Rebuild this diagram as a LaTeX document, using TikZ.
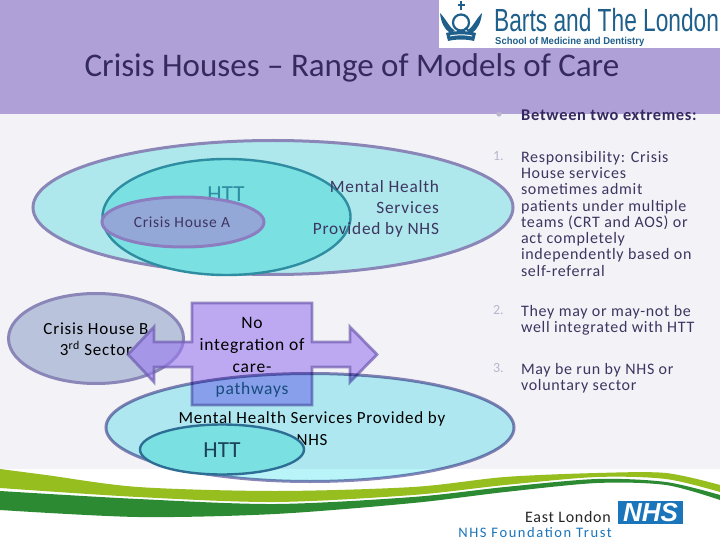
\documentclass[tikz,border=0pt]{standalone}
\usepackage{graphicx}
\usepackage{fontspec}
\setmainfont{Carlito}
\newfontfamily\logofont{Liberation Sans}
\newfontfamily\spaced[LetterSpace=4.5]{Carlito}
\newfontfamily\wider[LetterSpace=11]{Carlito}
\usetikzlibrary{shapes.geometric}
\definecolor{band}{HTML}{B0A0D8}
\definecolor{paper}{HTML}{F3F2F7}
\definecolor{ink}{HTML}{352A5E}
\definecolor{bodyink}{HTML}{3E3560}
\definecolor{numgray}{HTML}{B9B5CC}
\definecolor{rimviolet}{HTML}{8A87B8}
\definecolor{paleteal}{HTML}{AEE8EC}
\definecolor{brightteal}{HTML}{B8F4F8}
\definecolor{midteal}{HTML}{7BE0E2}
\definecolor{rimteal}{HTML}{2E8DA0}
\definecolor{rimblue}{HTML}{2D6E94}
\definecolor{houseA}{HTML}{94A8D8}
\definecolor{houseB}{HTML}{B9C4DC}
\definecolor{arrowfill}{HTML}{9A78F0}
\definecolor{arrowrim}{HTML}{6E5CB0}
\definecolor{logoblue}{HTML}{1F5F8B}
\definecolor{nhsblue}{HTML}{1A75BB}
\definecolor{lightgreen}{HTML}{96BE1E}
\definecolor{darkgreen}{HTML}{2C8A32}
\definecolor{pathblue}{HTML}{1F4F80}
\tikzset{
  x=1pt,y=-1pt,
  blob/.style={ellipse,inner sep=0pt,outer sep=0pt,line width=3pt},
  label/.style={inner sep=0pt,outer sep=0pt,text=black,align=center},
  sz/.style={font=\fontsize{#1}{#1}\selectfont},
  bodytext/.style={inner sep=0pt,outer sep=0pt,anchor=north west,align=left,text=bodyink,
    font=\spaced\fontsize{16}{16.3}\selectfont},
  numtext/.style={inner sep=0pt,outer sep=0pt,anchor=north west,text=numgray,font=\fontsize{14}{16}\selectfont},
}
\begin{document}
\begin{tikzpicture}
\useasboundingbox (0,0) rectangle (720,540);
% backgrounds
\fill[paper] (0,0) rectangle (720,540);
\fill[band] (0,0) rectangle (720,114);
\fill[white] (0,469) rectangle (720,540);
% swoosh
\fill[lightgreen] plot[smooth] coordinates {(0,469) (46,475) (138,487) (275,491) (413,487) (505,477) (597,473) (666,473) (720,485)}
  -- plot[smooth] coordinates {(720,492) (666,479) (597,477) (505,485) (413,495) (275,502) (138,497) (0,488)} -- cycle;
\fill[darkgreen] plot[smooth] coordinates {(0,491) (138,499) (275,504) (413,497) (505,487) (597,479) (666,482) (720,495)}
  -- plot[smooth] coordinates {(720,500) (666,485) (597,483) (505,492) (413,503) (275,514) (138,517) (0,510)} -- cycle;
% top logo
\fill[white] (439,0) rectangle (720,48);
\begin{scope}[logoblue]
  \draw[line width=2pt] (461,1.5) -- (461,10) (457.5,5) -- (464.5,5);
  \draw[line width=2.2pt] (461,22.5) circle[radius=8];
  \draw[line width=1.8pt] (465,28) -- (472,33);
  \fill (440,13) .. controls (446,19) and (449,27) .. (455,31) -- (450,33) .. controls (444,29) and (441,22) .. (440,13) -- cycle;
  \fill (482,13) .. controls (476,19) and (473,27) .. (467,31) -- (472,33) .. controls (478,29) and (481,22) .. (482,13) -- cycle;
  \fill (446,33) .. controls (455,30.5) and (467,30.5) .. (476,33) -- (474,41) .. controls (466,39) and (456,39) .. (448,41) -- cycle;
  \fill[white] (450,35.5) .. controls (456,34) and (466,34) .. (472,35.5) -- (472,36.5) .. controls (466,35) and (456,35) .. (450,36.5) -- cycle;
\end{scope}
\node[inner sep=0pt,anchor=west,text=logoblue,font=\logofont\fontsize{32}{32}\selectfont] (bartsname) at (494,20) {\scalebox{0.71}[1]{Barts and The London}};
\node[inner sep=0pt,anchor=west,text=logoblue,font=\logofont\bfseries\fontsize{10}{10}\selectfont] (bartsschool) at (495,42) {\scalebox{0.945}[1]{School of Medicine and Dentistry}};
% title
\node[inner sep=0pt,text=ink,sz=33] (title) at (352,68) {Crisis Houses – Range of Models of Care};
% top group
\node[blob,draw=rimviolet,fill=paleteal,minimum width=480pt,minimum height=134pt] (nhsA) at (273,207.5) {};
\node[blob,line width=2.4pt,draw=rimteal,fill=midteal,minimum width=248pt,minimum height=116pt] (httA) at (226.5,217) {};
\node[inner sep=0pt,text=rimteal,sz=23] (httAtext) at (226,194) {HTT};
\node[blob,draw=arrowrim!80!white,fill=houseA,minimum width=162pt,minimum height=50pt] (houseAshape) at (183,222) {};
\node[label,text=bodyink,font=\spaced\fontsize{15.5}{15.5}\selectfont] (houseAtext) at (182,222) {Crisis House A};
\node[label,text=bodyink,anchor=east,align=right,font=\spaced\fontsize{17.3}{21}\selectfont] (nhsAtext) at (439,209) {Mental Health\\Services\\Provided by NHS};
% crisis house B
\node[blob,draw=rimviolet,fill=houseB,minimum width=175pt,minimum height=90pt] (houseBshape) at (96,338.5) {};
\node[label,font=\spaced\fontsize{17}{21}\selectfont] (houseBtext) at (96,339) {Crisis House B\\3\textsuperscript{rd} Sector};
% arrow
\draw[line width=2.8pt,draw=arrowrim,draw opacity=.7,fill=arrowfill,fill opacity=.6]
  (192,303) -- (312,303) -- (312,342) -- (350,342) -- (350,327) -- (377,354.5) -- (350,382) -- (350,367) -- (312,367) -- (312,405)
  -- (192,405) -- (192,367) -- (154,367) -- (154,382) -- (128,354.5) -- (154,327) -- (154,342) -- (192,342) -- cycle;
\node[label,font=\spaced\fontsize{17.5}{22}\selectfont] (notext) at (252,357) {No\\integration of\\care-\\\textcolor{pathblue}{pathways}};
% bottom group
\begin{scope}[blend mode=multiply]
\node[blob,draw=rimviolet,fill=brightteal,minimum width=408pt,minimum height=108pt] (nhsB) at (310,427.5) {};
\end{scope}
\node[label,font=\spaced\fontsize{17}{22}\selectfont] (nhsBtext) at (312,429) {Mental Health Services Provided by\\NHS};
\node[blob,line width=2.4pt,draw=rimblue,fill=midteal,minimum width=164pt,minimum height=50pt] (httB) at (222,449.5) {};
\node[inner sep=0pt,text=rimblue!60!black,sz=23] (httBtext) at (222,450) {HTT};
% right column
\node[inner sep=0pt,text=numgray,font=\fontsize{14}{14}\selectfont] (dot) at (499,115) {•};
\node[inner sep=0pt,anchor=west,text=ink,font=\spaced\bfseries\fontsize{16.4}{16}\selectfont] (extremes) at (521,115.5) {Between two extremes:};
\node[numtext] (n1) at (493,151) {1.};
\node[bodytext] (t1) at (521,151) {Responsibility: Crisis\\House services\\sometimes admit\\patients under multiple\\teams (CRT and AOS) or\\act completely\\independently based on\\self-referral};
\node[numtext] (n2) at (493,305) {2.};
\node[bodytext] (t2) at (521,305) {They may or may-not be\\well integrated with HTT};
\node[numtext] (n3) at (493,363) {3.};
\node[bodytext] (t3) at (521,363) {May be run by NHS or\\voluntary sector};
% bottom logo
\node[inner sep=0pt,anchor=east,text=black!85,font=\spaced\fontsize{16}{16}\selectfont] (eastlondon) at (611,517.5) {East London};
\fill[nhsblue] (618,501) rectangle (683,523.5);
\node[inner sep=0pt,text=white,font=\logofont\bfseries\itshape\fontsize{26}{26}\selectfont] (nhslogo) at (650.5,512.5) {NHS};
\node[inner sep=0pt,anchor=east,text=nhsblue,font=\wider\fontsize{14.5}{15}\selectfont] (trust) at (612,533) {NHS Foundation Trust};
\end{tikzpicture}
\end{document}
